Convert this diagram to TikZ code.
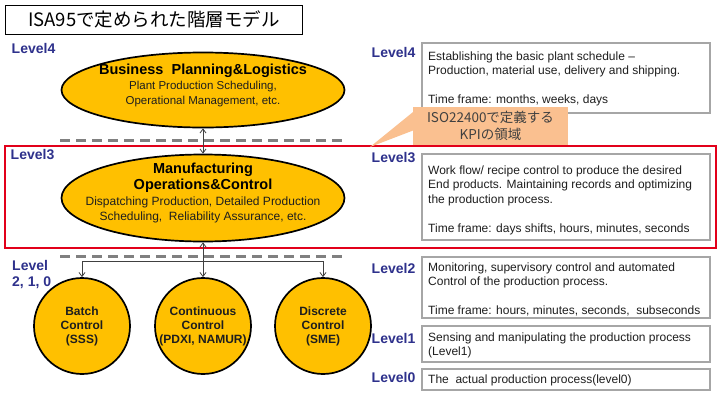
\documentclass[tikz,border=0pt]{standalone}
\usepackage{fontspec}
\setmainfont{Liberation Sans}
\newfontfamily\jpfont{Noto Sans CJK JP}
\usetikzlibrary{shapes.geometric,arrows.meta}
\definecolor{lvl}{RGB}{46,49,140}
\definecolor{ell}{RGB}{255,192,0}
\definecolor{boxgray}{RGB}{166,166,166}
\definecolor{dashgray}{RGB}{128,128,128}
\definecolor{redline}{RGB}{226,0,26}
\definecolor{callout}{RGB}{250,192,144}
\definecolor{arrowgray}{RGB}{64,64,64}
\definecolor{txt}{RGB}{30,30,30}
\begin{document}
\begin{tikzpicture}[x=1pt,y=-1pt,
  lvlstyle/.style={font=\fontsize{14}{16}\selectfont\bfseries, text=lvl, inner sep=0pt, align=left},
  ellstyle/.style={ellipse, draw=black, fill=ell, line width=1.7pt, inner sep=0pt},
  circstyle/.style={circle, draw=black, fill=ell, line width=1.7pt, inner sep=0pt, minimum size=96pt,
    align=center, font=\fontsize{12}{14}\selectfont\bfseries, text=txt},
  dbox/.style={draw=boxgray, line width=1.8pt, fill=white, inner sep=0pt, minimum width=288pt},
  desc/.style={font=\fontsize{12}{14.5}\selectfont, text=txt, inner sep=0pt, align=left, anchor=north west},
  sepline/.style={draw=dashgray, line width=3pt, dash pattern=on 10pt off 6pt},
  conn/.style={draw=arrowgray, line width=0.8pt},
  tip/.tip={Straight Barb[length=4pt,width=6pt]}
]
\useasboundingbox (0,0) rectangle (720,405);
\fill[white] (0,0) rectangle (720,405);

% title
\node[draw=black, line width=1pt, minimum width=297pt, minimum height=29pt, inner sep=0pt,
  font=\jpfont\fontsize{18.5}{20}\selectfont] (title) at (154,19.5) {ISA95で定められた階層モデル};

% dashed separators
\coordinate (d1a) at (60,140); \coordinate (d1b) at (345,140);
\coordinate (d2a) at (60,256); \coordinate (d2b) at (345,256);
\draw[sepline] (d1a) -- (d1b);
\draw[sepline] (d2a) -- (d2b);

% red frame for level 3
\node[draw=redline, line width=2.5pt, minimum width=711pt, minimum height=102pt, inner sep=0pt] (frame3) at (360.5,197) {};

% left level labels
\node[lvlstyle] (ll4) at (33.5,48) {Level4};
\node[lvlstyle] (ll3) at (32.5,155) {Level3};
\node[lvlstyle, anchor=north west] (ll210) at (12,260) {Level\\2, 1, 0};

% ellipses
\node[ellstyle, minimum width=283pt, minimum height=75pt] (e1) at (203,90) {};
\node[font=\fontsize{14.5}{16}\selectfont\bfseries, text=black, inner sep=0pt] (e1t) at (203,71) {Business\ \ Planning\&Logistics};
\node[font=\fontsize{11.5}{14.5}\selectfont, text=txt, inner sep=0pt, align=center] (e1s) at (203,94) {Plant Production Scheduling,\\Operational Management, etc.};

\node[ellstyle, minimum width=283pt, minimum height=87pt] (e2) at (203,198) {};
\node[font=\fontsize{14.5}{16.5}\selectfont\bfseries, text=black, inner sep=0pt, align=center] (e2t) at (203,177.5) {Manufacturing\\Operations\&Control};
\node[font=\fontsize{12}{15}\selectfont, text=txt, inner sep=0pt, align=center] (e2s) at (203,209.5) {Dispatching Production,\ Detailed Production\\Scheduling,\ \ Reliability Assurance, etc.};

% right level labels
\node[lvlstyle] (rl4) at (393.5,52) {Level4};
\node[lvlstyle] (rl3) at (393.5,158) {Level3};
\node[lvlstyle] (rl2) at (393.5,268) {Level2};
\node[lvlstyle] (rl1) at (393.5,338) {Level1};
\node[lvlstyle] (rl0) at (393.5,377) {Level0};

% circles
\node[circstyle] (c1) at (82,326) {Batch\\Control\\(SSS)};
\node[circstyle] (c2) at (203,326) {Continuous\\Control\\(PDXI, NAMUR)};
\node[circstyle] (c3) at (323,326) {Discrete\\Control\\(SME)};

% connectors
\draw[conn, tip-tip] (e1.south) -- (e2.north);
\draw[conn, tip-tip] (e2.south) -- (c2.north);
\coordinate (j1) at (82,261); \coordinate (j3) at (323,261);
\draw[conn] (j1) -- (j3);
\draw[conn, -tip] (j1) -- (c1.north);
\draw[conn, -tip] (j3) -- (c3.north);

% description boxes
\node[dbox, minimum height=70pt] (b4) at (566,78) {};
\node[desc] (t4) at (428,51.5) {Establishing the basic plant schedule --\\Production, material use, delivery and shipping.\\[14.5pt]Time frame: months, weeks, days};

\node[dbox, minimum height=86pt] (b3) at (566,197) {};
\node[desc] (t3) at (428,165.5) {Work flow/ recipe control to produce the desired\\End products. Maintaining records and optimizing\\the production process.\\[14.5pt]Time frame: days shifts, hours, minutes, seconds};

\node[dbox, minimum height=61pt] (b2) at (566,287.5) {};
\node[desc] (t2) at (428,262.5) {Monitoring, supervisory control and automated\\Control of the production process.\\[14.5pt]Time frame: hours, minutes, seconds,\ \ subseconds};

\node[dbox, minimum height=36pt] (b1) at (566,344) {};
\node[desc] (t1) at (428,332.5) {Sensing and manipulating the production process\\(Level1)};

\node[dbox, minimum height=21pt] (b0) at (566,379.5) {};
\node[desc] (t0) at (428,375) {The\ \ actual production process(level0)};

% callout
\coordinate (tailtip) at (370,147);
\fill[callout] (418,108) -- (tailtip) -- (430,124) -- cycle;
\node[fill=callout, minimum width=155pt, minimum height=38pt, inner sep=0pt, align=center,
  font=\jpfont\fontsize{13.5}{17}\selectfont, text=arrowgray] (co) at (490.5,126) {ISO22400で定義する\\KPIの領域};
\end{tikzpicture}
\end{document}
